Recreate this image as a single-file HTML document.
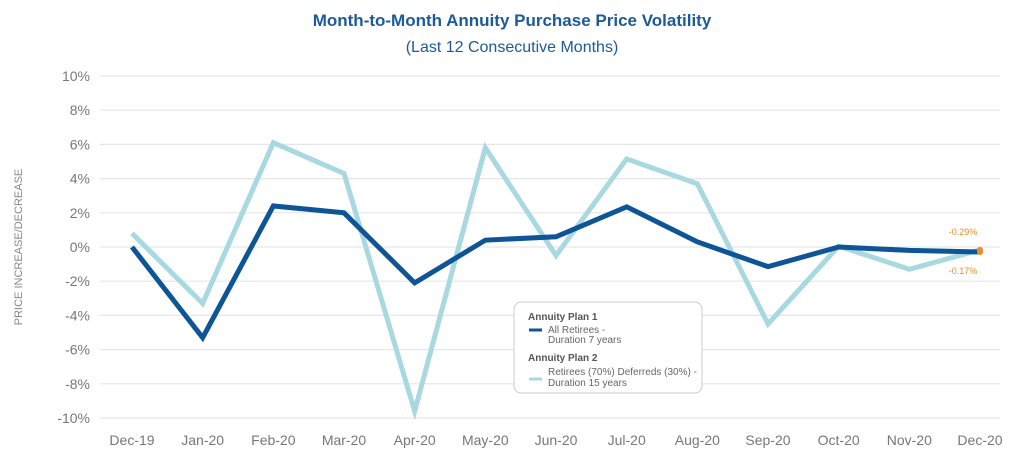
<!DOCTYPE html>
<html><head><meta charset="utf-8"><style>
body{margin:0;background:#fff;font-family:"Liberation Sans",sans-serif;}
svg text{font-family:"Liberation Sans",sans-serif;}
</style></head><body>
<svg id="c" width="1024" height="457" xmlns="http://www.w3.org/2000/svg">
<text x="512" y="26" text-anchor="middle" font-size="17" font-weight="bold" fill="#1c5a99">Month-to-Month Annuity Purchase Price Volatility</text>
<text x="512" y="52" text-anchor="middle" font-size="16" fill="#1c5a99">(Last 12 Consecutive Months)</text>
<text transform="translate(22,247) rotate(-90)" text-anchor="middle" font-size="11" fill="#888">PRICE INCREASE/DECREASE</text>
<g id="grid"></g><g id="lines"></g>
<g>
<rect x="514" y="302" width="188" height="91" rx="7" fill="#fff" stroke="#ccc" stroke-width="1"/>
<text x="528" y="320" font-size="10" font-weight="bold" fill="#555">Annuity Plan 1</text>
<line x1="529" y1="330" x2="542" y2="330" stroke="#0d5596" stroke-width="3"/>
<text x="548" y="333" font-size="10" fill="#666">All Retirees -</text>
<text x="548" y="343" font-size="10" fill="#666">Duration 7 years</text>
<text x="528" y="361" font-size="10" font-weight="bold" fill="#555">Annuity Plan 2</text>
<line x1="529" y1="379" x2="542" y2="379" stroke="#a8d8e0" stroke-width="3"/>
<text x="548" y="375" font-size="10" fill="#666">Retirees (70%) Deferreds (30%) -</text>
<text x="548" y="386" font-size="10" fill="#666">Duration 15 years</text>
</g>
<text x="963" y="235" text-anchor="middle" font-size="9" fill="#f08a24">-0.29%</text>
<text x="963" y="274" text-anchor="middle" font-size="9" fill="#f08a24">-0.17%</text>
</svg>
<script>
const categories=["Dec-19","Jan-20","Feb-20","Mar-20","Apr-20","May-20","Jun-20","Jul-20","Aug-20","Sep-20","Oct-20","Nov-20","Dec-20"];
const plan1=[0,-5.3,2.4,2.0,-2.1,0.4,0.6,2.35,0.3,-1.15,0,-0.2,-0.29];
const plan2=[0.8,-3.3,6.1,4.3,-9.6,5.8,-0.5,5.15,3.7,-4.5,0.05,-1.3,-0.17];
const yTicks=[10,8,6,4,2,0,-2,-4,-6,-8,-10];
const NS="http://www.w3.org/2000/svg";
const x=i=>132+i*(980-132)/(categories.length-1);
const y=v=>247-v*17.1;
const g=document.getElementById('grid'),L=document.getElementById('lines');
function mk(t,a,p){const e=document.createElementNS(NS,t);for(const k in a)e.setAttribute(k,a[k]);p.appendChild(e);return e;}
yTicks.forEach(v=>{
 const l=mk('line',{x1:100,x2:1000,y1:y(v),y2:y(v),stroke:'#e6e6e6','stroke-width':1.2},g);
 
 
 const t=mk('text',{x:90,y:y(v)+5,'text-anchor':'end','font-size':14,fill:'#777'},g);t.textContent=v+'%';
 
 
});
categories.forEach((c,i)=>{
 const t=mk('text',{x:x(i),y:445,'text-anchor':'middle','font-size':14,fill:'#777'},g);t.textContent=c;
 
 
});
function line(d,col,name){
 const p=mk('polyline',{points:d.map((v,i)=>x(i)+','+y(v)).join(' '),fill:'none',stroke:col,'stroke-width':5,'stroke-linejoin':'miter'},L);
 
 
}
line(plan2,'#a8d8e0','series-plan2');
line(plan1,'#0d5596','series-plan1');
[plan1,plan2].forEach(d=>{
 const c=mk('circle',{cx:x(12),cy:y(d[12]),r:3,fill:'#f08a24'},L);
 
 
});
</script>
</body></html>
